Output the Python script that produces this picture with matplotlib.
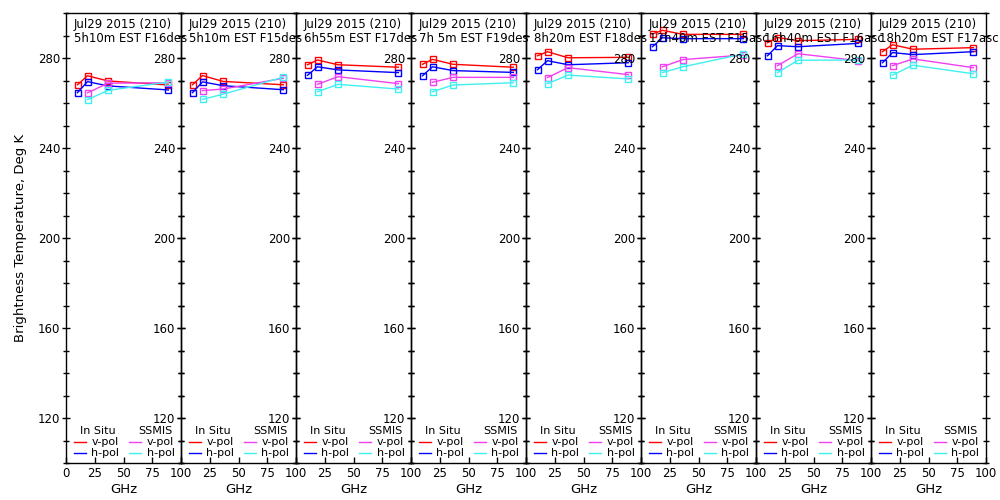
import matplotlib
matplotlib.use("Agg")
import matplotlib.pyplot as plt
from matplotlib.ticker import MultipleLocator, FixedLocator

# channel frequencies (GHz)
insitu_freq = [10.0, 18.7, 36.5, 89.0]
ssmis_freq = [18.7, 36.5, 89.0]

date_line = "Jul29 2015 (210)"
pass_labels = [
    "5h10m EST F16des",
    "5h10m EST F15des",
    "6h55m EST F17des",
    "7h 5m EST F19des",
    "8h20m EST F18des",
    "12h40m EST F15asc",
    "16h40m EST F16asc",
    "18h20m EST F17asc",
]

# brightness temperatures, Deg K, one row per panel
insitu_v = [
    [268.1, 272.1, 269.8, 268.0],
    [268.1, 272.2, 269.6, 268.1],
    [277.0, 279.1, 277.0, 275.9],
    [277.2, 279.4, 277.2, 275.9],
    [281.0, 282.8, 280.1, 280.3],
    [290.7, 292.3, 290.5, 290.5],
    [286.8, 289.1, 287.7, 288.3],
    [282.8, 285.9, 283.9, 284.6],
]
insitu_h = [
    [264.6, 269.5, 267.6, 265.8],
    [264.6, 269.4, 267.7, 265.9],
    [272.3, 276.1, 274.7, 273.5],
    [272.1, 276.1, 274.4, 273.6],
    [274.8, 278.8, 277.0, 277.9],
    [285.0, 289.0, 288.6, 288.6],
    [281.0, 285.5, 285.0, 286.5],
    [277.9, 282.4, 281.5, 282.8],
]
ssmis_v = [
    [264.5, 268.8, 269.0],
    [265.5, 266.2, 271.0],
    [268.3, 271.7, 268.6],
    [269.2, 271.4, 271.4],
    [271.3, 275.7, 272.6],
    [276.1, 279.3, 281.3],
    [276.6, 281.9, 278.8],
    [276.6, 279.6, 275.7],
]
ssmis_h = [
    [261.5, 265.6, 269.3],
    [261.6, 263.9, 271.5],
    [265.0, 268.3, 266.2],
    [265.0, 268.0, 269.0],
    [268.6, 272.4, 270.7],
    [273.5, 276.1, 281.8],
    [273.5, 279.0, 279.1],
    [272.4, 276.8, 273.0],
]

col_iv = "#ff0000"
col_ih = "#0000ff"
col_sv = "#f040f0"
col_sh = "#40f0f0"

fig = plt.figure(figsize=(10, 5), dpi=100)

n = len(pass_labels)
left0, width, bottom, height = 0.066, 0.115, 0.074, 0.900
fs = 8

for i in range(n):
    ax = fig.add_axes([left0 + i * width, bottom, width, height])
    ax.set_facecolor("none")

    mk = dict(marker="s", markersize=4, mfc="none", mew=1, lw=1)
    ax.plot(insitu_freq, insitu_v[i], color=col_iv, **mk)
    ax.plot(insitu_freq, insitu_h[i], color=col_ih, **mk)
    ax.plot(ssmis_freq, ssmis_v[i], color=col_sv, **mk)
    ax.plot(ssmis_freq, ssmis_h[i], color=col_sh, **mk)

    ax.set_xlim(0, 100)
    ax.set_ylim(100, 300)
    ax.xaxis.set_major_locator(FixedLocator([0, 25, 50, 75, 100]))
    ax.yaxis.set_major_locator(FixedLocator([120, 160, 200, 240, 280]))
    ax.yaxis.set_minor_locator(MultipleLocator(10))
    if i == 0:
        ax.set_xticklabels(["0", "25", "50", "75", "100"])
    else:
        ax.set_xticklabels(["", "25", "50", "75", "100"])

    ax.tick_params(axis="x", direction="in", length=4, width=1,
                   labelsize=fs + 0.5, pad=3)
    ax.tick_params(axis="y", which="major", direction="inout", length=6,
                   width=1, left=True, right=True, labelsize=fs + 0.5, pad=1)
    ax.tick_params(axis="y", which="minor", direction="inout", length=4,
                   width=1, left=True, right=True)
    for s in ax.spines.values():
        s.set_linewidth(1)

    ax.set_xlabel("GHz", fontsize=9.5, labelpad=2)
    if i == 0:
        ax.set_ylabel("Brightness Temperature, Deg K", fontsize=9.5,
                      labelpad=8)

    # two line header
    ax.text(0.07, 0.975, date_line, transform=ax.transAxes, fontsize=fs + 0.5,
            va="center", ha="left")
    ax.text(0.07, 0.943, pass_labels[i], transform=ax.transAxes,
            fontsize=fs + 0.5, va="center", ha="left")

    # little legend in the bottom of each panel
    ax.text(0.12, 0.072, "In Situ", transform=ax.transAxes, fontsize=fs,
            va="center", ha="left")
    ax.text(0.63, 0.072, "SSMIS", transform=ax.transAxes, fontsize=fs,
            va="center", ha="left")
    rows = [(0.046, "v-pol", col_iv, col_sv), (0.023, "h-pol", col_ih, col_sh)]
    for y, lab, c1, c2 in rows:
        ax.plot([0.07, 0.175], [y, y], color=c1, lw=1, transform=ax.transAxes)
        ax.text(0.22, y, lab, transform=ax.transAxes, fontsize=fs,
                va="center", ha="left")
        ax.plot([0.55, 0.655], [y, y], color=c2, lw=1, transform=ax.transAxes)
        ax.text(0.70, y, lab, transform=ax.transAxes, fontsize=fs,
                va="center", ha="left")

fig.savefig("out.png", dpi=100)
